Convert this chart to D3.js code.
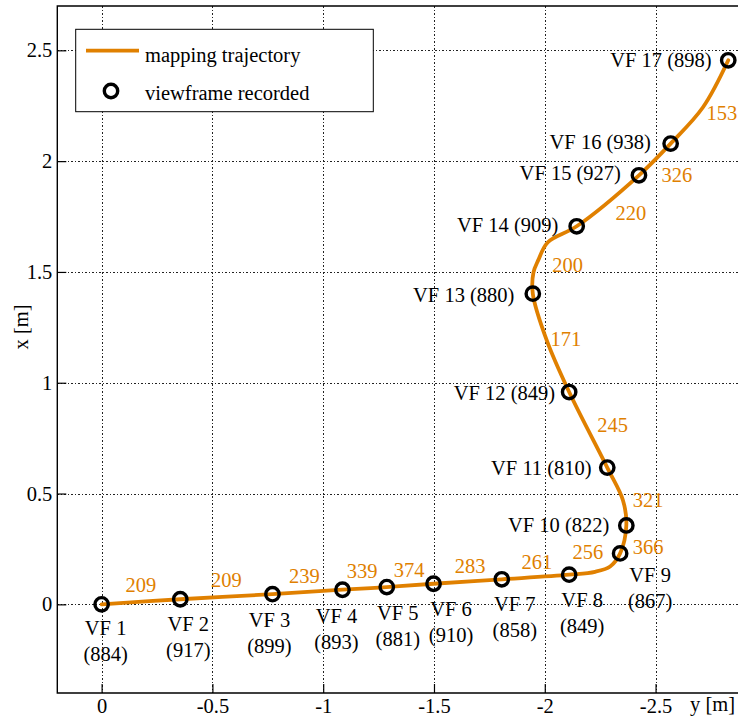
<!DOCTYPE html>
<html>
<head>
<meta charset="utf-8">
<script src="https://cdn.jsdelivr.net/npm/d3@7/dist/d3.min.js"></script>
<style>
  html, body { margin: 0; padding: 0; background: #fff; }
  svg { display: block; }
  text { font-family: "Liberation Serif", "Times New Roman", Times, serif; }
</style>
</head>
<body>
<svg id="chart" width="738" height="719"></svg>
<script>
// Horizontal axis is the robot's y coordinate, vertical axis its x coordinate (metres).
const xTicks = [0, -0.5, -1, -1.5, -2, -2.5];
const yTicks = [0, 0.5, 1, 1.5, 2, 2.5];

// Viewframes recorded along the mapping run
const vfIds    = [1, 2, 3, 4, 5, 6, 7, 8, 9, 10, 11, 12, 13, 14, 15, 16, 17];
const vfFeat   = [884, 917, 899, 893, 881, 910, 858, 849, 867, 822, 810, 849, 880, 909, 927, 938, 898];
const vfPosY   = [0, -0.355, -0.771, -1.087, -1.287, -1.498, -1.806, -2.110, -2.340, -2.368,
                  -2.282, -2.110, -1.946, -2.144, -2.425, -2.568, -2.828];
const vfPosX   = [0, 0.023, 0.046, 0.066, 0.078, 0.093, 0.113, 0.134, 0.230, 0.356,
                  0.617, 0.958, 1.402, 1.706, 1.936, 2.079, 2.455];

// Counts written next to each leg between consecutive viewframes
const legCounts = [209, 209, 239, 339, 374, 283, 261, 256, 366, 321, 245, 171, 200, 220, 326, 153];

// Mapping trajectory waypoints
const trajY = [0, -0.355, -0.771, -1.087, -1.287, -1.498, -1.806, -2.110, -2.227, -2.295,
               -2.340, -2.368, -2.353, -2.282, -2.110, -2.009, -1.946, -1.949, -1.970, -2.014,
               -2.144, -2.425, -2.568, -2.714, -2.828];
const trajX = [0, 0.023, 0.046, 0.066, 0.078, 0.093, 0.113, 0.134, 0.147, 0.171,
               0.230, 0.356, 0.469, 0.617, 0.958, 1.191, 1.402, 1.498, 1.552, 1.634,
               1.706, 1.936, 2.079, 2.243, 2.455];

const ORANGE = "#e08000";
const FONT = 20.5;

const svg = d3.select("#chart");
const plotL = 57.3, plotR = 744.2, plotT = 6, plotB = 693;

const sx = d3.scaleLinear().domain([0.2, -2.9]).range([plotL, plotR]);
const sy = d3.scaleLinear().domain([-0.4, 2.7]).range([plotB, plotT]);

// grid
const grid = svg.append("g").attr("stroke", "#222").attr("stroke-width", 1)
  .attr("stroke-dasharray", "1.5,2").attr("shape-rendering", "crispEdges");
grid.selectAll("line.vx").data(xTicks).join("line")
  .attr("x1", d => Math.round(sx(d)) + 0.5).attr("x2", d => Math.round(sx(d)) + 0.5)
  .attr("y1", plotT).attr("y2", plotB);
grid.selectAll("line.hy").data(yTicks).join("line")
  .attr("y1", d => Math.round(sy(d)) + 0.5).attr("y2", d => Math.round(sy(d)) + 0.5)
  .attr("x1", plotL).attr("x2", plotR);

// axes with inward ticks
const xAxis = d3.axisBottom(sx).tickValues(xTicks).tickSize(-9).tickPadding(5)
  .tickFormat(d => String(d));
const yAxis = d3.axisLeft(sy).tickValues(yTicks).tickSize(-9).tickPadding(5)
  .tickFormat(d => String(d));

const gx = svg.append("g").attr("transform", `translate(0,${plotB})`).call(xAxis);
const gy = svg.append("g").attr("transform", `translate(${plotL},0)`).call(yAxis);
[gx, gy].forEach(g => {
  g.select(".domain").remove();
  g.attr("font-family", null);
  g.selectAll(".tick line").attr("stroke", "#000").attr("stroke-width", 1.2);
  g.selectAll(".tick text").attr("font-size", FONT).attr("fill", "#000");
});
gx.selectAll(".tick text").attr("dy", "0.71em");

// frame (left, top, bottom)
svg.append("path")
  .attr("d", `M${plotR},${plotT}H${plotL}V${plotB}H${plotR}`)
  .attr("fill", "none").attr("stroke", "#000").attr("stroke-width", 1.4);

// axis titles
svg.append("text").attr("x", 690).attr("y", 711).attr("font-size", FONT).text("y [m]");
svg.append("text").attr("transform", "translate(28,327) rotate(-90)")
  .attr("text-anchor", "middle").attr("font-size", FONT).text("x [m]");

// trajectory
const traj = trajY.map((v, i) => [sx(v), sy(trajX[i])]);
svg.append("path")
  .attr("d", d3.line().curve(d3.curveCatmullRom.alpha(0.5))(traj))
  .attr("fill", "none").attr("stroke", ORANGE).attr("stroke-width", 3.8)
  .attr("stroke-linejoin", "round").attr("stroke-linecap", "round");

// viewframe markers
const vf = vfIds.map((id, i) => ({ id, feat: vfFeat[i], px: sx(vfPosY[i]), py: sy(vfPosX[i]) }));
svg.append("g").selectAll("circle").data(vf).join("circle")
  .attr("cx", d => d.px).attr("cy", d => d.py).attr("r", 6.7)
  .attr("fill", "none").attr("stroke", "#000").attr("stroke-width", 3.4);

// leg count labels, offset from the leg midpoint
const legOffsets = [[0, -10], [0, -10], [-3, -9], [-2.5, -10.7], [-1, -8.3], [2.5, -8.5],
                    [1.4, -8.4], [-6.7, -5.4], [25, 14.3], [31.3, 10.7], [24.3, 2.2],
                    [15, 3.2], [12.8, 12], [23, 19.5], [22, 22.5], [22.5, 18.3]];
svg.append("g").selectAll("text").data(legCounts).join("text")
  .attr("x", (d, i) => (vf[i].px + vf[i + 1].px) / 2 + legOffsets[i][0])
  .attr("y", (d, i) => (vf[i].py + vf[i + 1].py) / 2 + legOffsets[i][1])
  .attr("text-anchor", "middle").attr("font-size", FONT).attr("fill", ORANGE)
  .text(d => d);

// viewframe labels: two lines beneath for the first leg, single line to the left afterwards
const vfLabelOffsets = [[4, 31], [8, 32], [-3, 33], [-6, 33.5], [11, 33.3], [17.5, 32.7],
                        [13, 31.7], [13, 32.4], [30, 28.7], [-17, 6.7], [-15.6, 7.7],
                        [-14, 8.3], [-18.4, 8.4], [-18.4, 5.7], [-18, 5], [-19.7, 5], [-16.6, 6.7]];
const lbl = svg.append("g").attr("font-size", FONT).attr("fill", "#000");
vf.forEach((d, i) => {
  const [dx, dy] = vfLabelOffsets[i];
  if (i < 9) {
    const t = lbl.append("text").attr("text-anchor", "middle");
    t.append("tspan").attr("x", d.px + dx).attr("y", d.py + dy).text(`VF ${d.id}`);
    t.append("tspan").attr("x", d.px + dx).attr("y", d.py + dy + 25.7).text(`(${d.feat})`);
  } else {
    lbl.append("text").attr("text-anchor", "end")
      .attr("x", d.px + dx).attr("y", d.py + dy).text(`VF ${d.id} (${d.feat})`);
  }
});

// legend
const lg = svg.append("g");
lg.append("rect").attr("x", 75.7).attr("y", 29.3).attr("width", 297.6).attr("height", 82.4)
  .attr("fill", "#fff").attr("stroke", "#000").attr("stroke-width", 1);
lg.append("line").attr("x1", 86).attr("x2", 139).attr("y1", 50.7).attr("y2", 50.7)
  .attr("stroke", ORANGE).attr("stroke-width", 3.8);
lg.append("circle").attr("cx", 111).attr("cy", 91).attr("r", 6.7)
  .attr("fill", "none").attr("stroke", "#000").attr("stroke-width", 3.4);
lg.append("text").attr("x", 145).attr("y", 62).attr("font-size", FONT).text("mapping trajectory");
lg.append("text").attr("x", 145).attr("y", 100).attr("font-size", FONT).text("viewframe recorded");
</script>
</body>
</html>
